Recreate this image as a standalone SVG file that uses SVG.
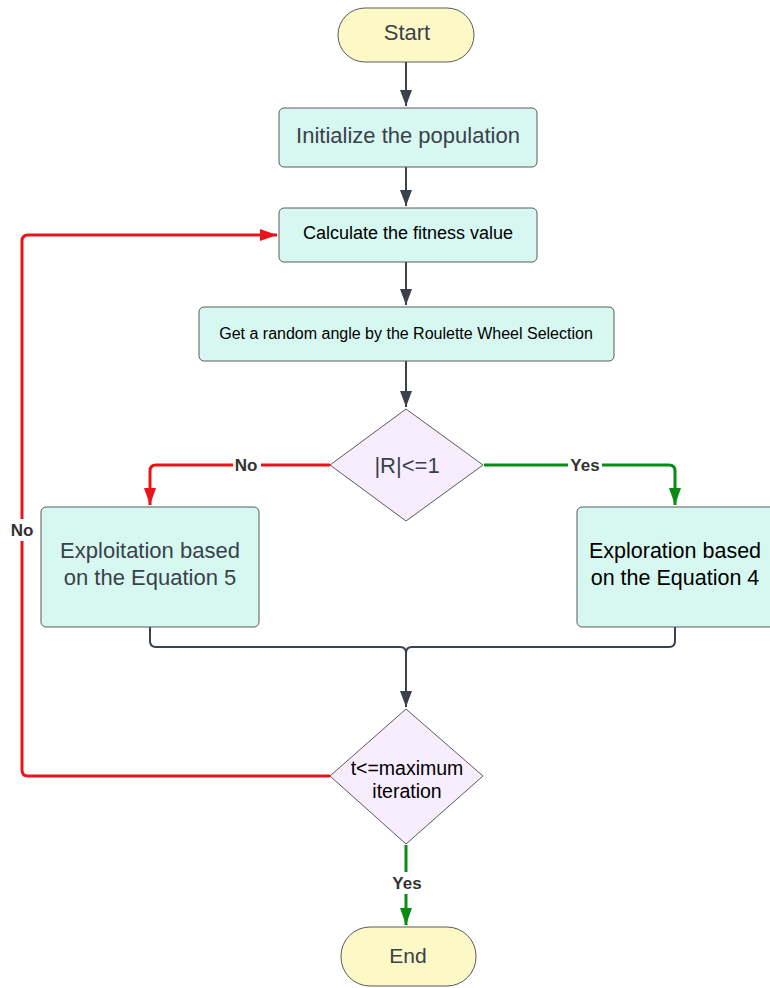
<svg xmlns="http://www.w3.org/2000/svg" width="770" height="988" viewBox="0 0 770 988">
<style>
.term{fill:#fcf9c6;stroke:#5a5a5a;stroke-width:1}
.proc{fill:#d7f8f1;stroke:#5a5a5a;stroke-width:1}
.dec{fill:#f8edfd;stroke:#5a5a5a;stroke-width:1}
text{font-family:"Liberation Sans",Arial,sans-serif;text-anchor:middle}
.g{fill:#3a414a}
.k{fill:#000}
.lbl{font-weight:bold;font-size:17px;fill:#333}
.dk{fill:none;stroke:#3a414a;stroke-width:2}
.rd{fill:none;stroke:#e8141a;stroke-width:3}
.gr{fill:none;stroke:#0a8c14;stroke-width:3}
</style>
<defs>
<marker id="aDk" markerWidth="12" markerHeight="16" refX="6" refY="16" markerUnits="userSpaceOnUse" viewBox="0 0 12 16"><path d="M0,0 L12,0 L6,16 Z" fill="#3a414a"/></marker>
<marker id="aRd" markerWidth="12" markerHeight="17" refX="6" refY="17" markerUnits="userSpaceOnUse" viewBox="0 0 12 17"><path d="M0,0 L12,0 L6,17 Z" fill="#e8141a"/></marker>
<marker id="aGr" markerWidth="12" markerHeight="17" refX="6" refY="17" markerUnits="userSpaceOnUse" viewBox="0 0 12 17"><path d="M0,0 L12,0 L6,17 Z" fill="#0a8c14"/></marker>
<marker id="aRdR" markerWidth="17" markerHeight="12" refX="17" refY="6" markerUnits="userSpaceOnUse" viewBox="0 0 17 12"><path d="M0,0 L17,6 L0,12 Z" fill="#e8141a"/></marker>
</defs>
<g id="connectors">
<path class="dk" d="M406,62 V106" marker-end="url(#aDk)"/>
<path class="dk" d="M406,167 V206" marker-end="url(#aDk)"/>
<path class="dk" d="M406,262 V305" marker-end="url(#aDk)"/>
<path class="dk" d="M406,361 V407" marker-end="url(#aDk)"/>
<path class="rd" d="M330,465 H156 Q150,465 150,471 V505" marker-end="url(#aRd)"/>
<path class="gr" d="M484,465 H669 Q675,465 675,471 V505" marker-end="url(#aGr)"/>
<path class="dk" d="M150,627 V641 Q150,647 156,647 H400 Q406,647 406,653 V707" marker-end="url(#aDk)"/>
<path class="dk" d="M675,627 V641 Q675,647 669,647 H412 Q406,647 406,653"/>
<path class="rd" d="M330,776 H28 Q22,776 22,770 V241 Q22,235 28,235 H277" marker-end="url(#aRdR)"/>
<path class="gr" d="M406,845 V925" marker-end="url(#aGr)"/>
<rect x="233" y="456" width="28" height="18" fill="#fff"/>
<text class="lbl" x="246" y="471">No</text>
<rect x="568" y="456" width="34" height="18" fill="#fff"/>
<text class="lbl" x="585" y="471">Yes</text>
<rect x="8" y="519" width="28" height="22" fill="#fff"/>
<text class="lbl" x="22" y="536">No</text>
<rect x="388" y="872" width="38" height="22" fill="#fff"/>
<text class="lbl" x="407" y="889">Yes</text>
</g>
<g id="start">
<rect class="term" x="338" y="8" width="136" height="54" rx="27"/>
<text class="g" x="407" y="40" font-size="22">Start</text>
</g>
<g id="init">
<rect class="proc" x="279" y="108" width="258" height="59" rx="5"/>
<text class="g" x="408" y="143" font-size="22">Initialize the population</text>
</g>
<g id="fitness">
<rect class="proc" x="279" y="208" width="258" height="54" rx="5"/>
<text class="k" x="408" y="239" font-size="18">Calculate the fitness value</text>
</g>
<g id="roulette">
<rect class="proc" x="199" y="307" width="415" height="54" rx="5"/>
<text class="k" x="406" y="339" font-size="16">Get a random angle by the Roulette Wheel Selection</text>
</g>
<g id="decR">
<path class="dec" d="M406,409 L483,465 L406,521 L330,465 Z" stroke-linejoin="round"/>
<text class="g" x="407" y="473" font-size="22">|R|&lt;=1</text>
</g>
<g id="exploit">
<rect class="proc" x="41" y="507" width="218" height="120" rx="5"/>
<text class="g" x="150" y="558" font-size="22">Exploitation based</text>
<text class="g" x="150" y="585" font-size="22">on the Equation 5</text>
</g>
<g id="explore">
<rect class="proc" x="577" y="507" width="198" height="120" rx="5"/>
<text class="k" x="675" y="558" font-size="21.5">Exploration based</text>
<text class="k" x="675" y="585" font-size="21.5">on the Equation 4</text>
</g>
<g id="decT">
<path class="dec" d="M406,709 L483,776 L406,844 L330,776 Z" stroke-linejoin="round"/>
<text class="k" x="407" y="775" font-size="19.5">t&lt;=maximum</text>
<text class="k" x="407" y="798" font-size="19.5">iteration</text>
</g>
<g id="end">
<rect class="term" x="341" y="927" width="135" height="59" rx="29"/>
<text class="g" x="408" y="963" font-size="21">End</text>
</g>
</svg>
